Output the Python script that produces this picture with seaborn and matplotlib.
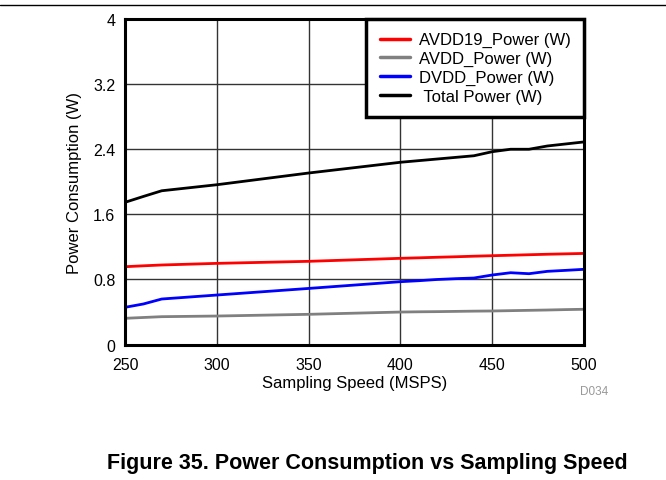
import numpy as np
import pandas as pd
import matplotlib
matplotlib.use("Agg")
import matplotlib.pyplot as plt
import seaborn as sns
from matplotlib.lines import Line2D

# =========================
# DATA
# =========================
speed = [250, 260, 270, 300, 350, 400, 410, 420, 430, 440, 450, 460, 470, 480, 490, 500]
avdd19 = [0.957, 0.968, 0.978, 0.998, 1.023, 1.060, 1.066, 1.073, 1.079, 1.086, 1.092, 1.098, 1.104, 1.110, 1.115, 1.120]
avdd = [0.323, 0.333, 0.343, 0.351, 0.372, 0.400, 0.403, 0.405, 0.408, 0.411, 0.413, 0.417, 0.421, 0.425, 0.430, 0.434]
dvdd = [0.458, 0.499, 0.560, 0.609, 0.690, 0.773, 0.785, 0.800, 0.810, 0.818, 0.855, 0.883, 0.871, 0.900, 0.912, 0.925]
total = [1.748, 1.820, 1.890, 1.964, 2.108, 2.240, 2.260, 2.280, 2.300, 2.320, 2.370, 2.400, 2.400, 2.440, 2.465, 2.490]

series_names = ["AVDD19_Power (W)", "AVDD_Power (W)", "DVDD_Power (W)", " Total Power (W)"]
series_colors = ["#ff0000", "#808080", "#0000ff", "#000000"]

x_ticks = [250, 300, 350, 400, 450, 500]
y_ticks = [0, 0.8, 1.6, 2.4, 3.2, 4]
y_tick_labels = ["0", "0.8", "1.6", "2.4", "3.2", "4"]

df = pd.concat([
    pd.DataFrame({"speed": speed, "power": vals, "series": name})
    for name, vals in zip(series_names, [avdd19, avdd, dvdd, total])
])

# =========================
# PLOT
# =========================
sns.set_style("white")
plt.rcParams["font.family"] = ["Liberation Sans", "DejaVu Sans"]
plt.rcParams["text.color"] = "black"
plt.rcParams["axes.labelcolor"] = "black"

fig = plt.figure(figsize=(6.66, 4.81), dpi=100)
ax = fig.add_axes([0.1877, 0.2815, 0.6893, 0.6769])

sns.lineplot(
    data=df, x="speed", y="power", hue="series",
    palette=dict(zip(series_names, series_colors)),
    linewidth=2.0, ax=ax, legend=False
)

ax.set_xlim(250, 500)
ax.set_ylim(0, 4)
ax.set_xticks(x_ticks)
ax.set_yticks(y_ticks)
ax.set_yticklabels(y_tick_labels)
ax.tick_params(length=0, labelsize=11.5, colors="black")
ax.tick_params(axis="x", pad=9)
ax.tick_params(axis="y", pad=7)
ax.grid(True, color="#333333", linewidth=1.0)
for sp in ax.spines.values():
    sp.set_visible(True)
    sp.set_color("black")
    sp.set_linewidth(2.2)

ax.set_xlabel("Sampling Speed (MSPS)", fontsize=12, labelpad=2)
ax.set_ylabel("Power Consumption (W)", fontsize=12, labelpad=8)

handles = [Line2D([], [], color=c, linewidth=2.5) for c in series_colors]
leg = ax.legend(
    handles, series_names, loc="upper right", fontsize=12,
    frameon=True, fancybox=False, framealpha=1, edgecolor="black",
    borderaxespad=0, handlelength=1.8, handletextpad=0.55,
    labelspacing=0.22, borderpad=0.8
)
leg.get_frame().set_linewidth(2.5)

fig.add_artist(Line2D([0, 1], [0.9875, 0.9875], color="black", linewidth=1.0))
fig.text(0.892, 0.185, "D034", fontsize=8.5, color="#999999", ha="center", va="center")
fig.text(0.552, 0.037, "Figure 35. Power Consumption vs Sampling Speed",
         fontsize=15.5, fontweight="bold", ha="center", va="center")

plt.savefig("out.png", dpi=100)
